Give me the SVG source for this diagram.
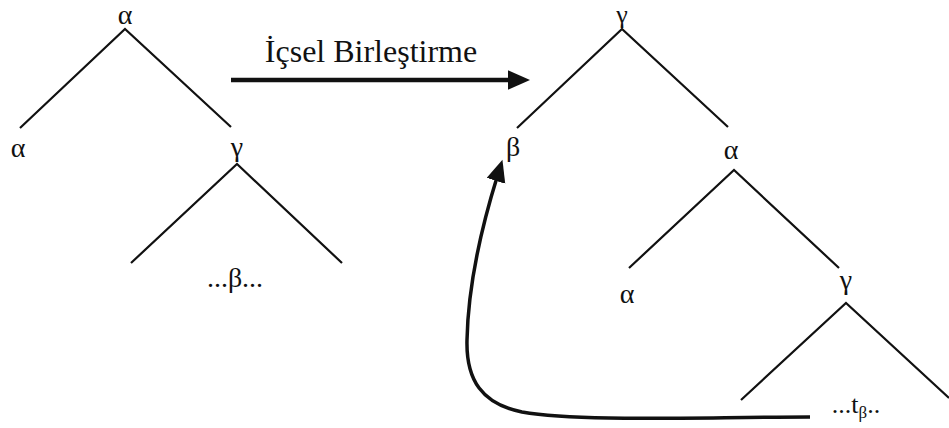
<svg xmlns="http://www.w3.org/2000/svg" width="949" height="428" viewBox="0 0 949 428">
<defs>
<marker id="ah" markerUnits="userSpaceOnUse" markerWidth="24" markerHeight="20" refX="5" refY="9.75" orient="auto">
<path d="M0,0 L22,9.75 L0,19.5 Z" fill="#111"/>
</marker>
</defs>
<g font-family="Liberation Serif, serif" fill="#111" text-anchor="middle" font-size="28">
<g id="left-tree">
<g id="L-root"><text x="125" y="24">α</text></g>
<g id="L-alpha"><text x="18" y="157">α</text></g>
<g id="L-gamma"><text x="237" y="156">γ</text></g>
<g id="L-beta"><text x="235" y="287">...β...</text></g>
</g>
<g id="right-tree">
<g id="R-root"><text x="622" y="23" font-size="26">γ</text></g>
<g id="R-beta"><text x="513" y="156">β</text></g>
<g id="R-alpha1"><text x="731" y="159">α</text></g>
<g id="R-alpha2"><text x="627" y="303">α</text></g>
<g id="R-gamma2"><text x="846" y="289">γ</text></g>
<g id="R-trace"><text x="856" y="413" font-size="26">...t<tspan font-size="17" dy="5">β</tspan><tspan dy="-5">..</tspan></text></g>
</g>
<g id="label"><text x="371" y="62" font-size="32">İçsel Birleştirme</text></g>
</g>
<g id="connectors" stroke="#111" fill="none">
<g stroke-width="2.2">
<path d="M20,128 L125,29 L231,127"/>
<path d="M131,263 L237,164 L342,263"/>
<path d="M517,128 L622,29 L728,127"/>
<path d="M629,268 L734,170 L839,268"/>
<path d="M741,400 L846,303 L949,398"/>
</g>
<path stroke-width="4.5" d="M231,80 L513,80" marker-end="url(#ah)"/>
<path stroke-width="3.5" d="M810,417 C700,417 580,422 522,412 C482,404 466,380 467,340 C468,290 480,232 497.4,176" marker-end="url(#ah)"/>
</g>
</svg>
